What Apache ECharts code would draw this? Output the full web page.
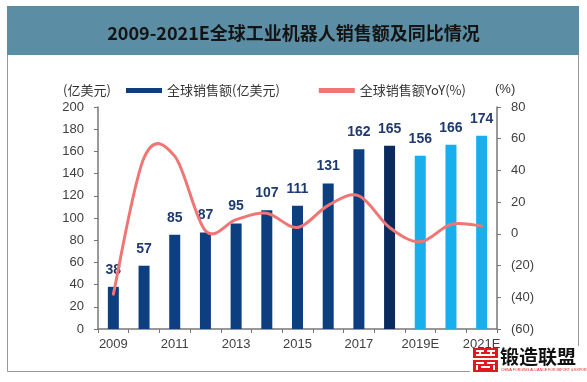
<!DOCTYPE html>
<html><head><meta charset="utf-8">
<script src="https://cdn.jsdelivr.net/npm/echarts@6/dist/echarts.min.js"></script>
<style>html,body{margin:0;padding:0;background:#fff}#c{width:587px;height:382px}</style>
</head><body><div id="c"></div>
<script>
const categories = ['2009','2010','2011','2012','2013','2014','2015','2016','2017','2018','2019E','2020E','2021E'];
const sales = [38,57,85,87,95,107,111,131,162,165,156,166,174];
const yoy = [-38,48,49,2,9,13,4,18,24,4,-5,6,5];
const leftTicks = {min:0, max:200, interval:20};
const rightTicks = {min:-60, max:80, interval:20};

const darkBlue = '#0c3e80', navy = '#0a2a5e', lightBlue = '#19afec', lineColor = '#f07575';
const barColors = categories.map((c,i)=> i<9 ? darkBlue : (i===9 ? navy : lightBlue));
const fontNum = 'Liberation Sans, Arial, sans-serif';
const fontCJK = 'Noto Sans CJK SC, sans-serif';

function renderSmooth(params, api){
  if (params.dataIndex !== 0) return;
  const pts = yoy.map((v,i)=>api.coord([i, v]));
  let d = 'M' + pts[0][0] + ',' + pts[0][1];
  for (let i=0;i<pts.length-1;i++){
    const p0 = pts[Math.max(0,i-1)], p1 = pts[i], p2 = pts[i+1], p3 = pts[Math.min(pts.length-1,i+2)];
    const c1 = [p1[0]+(p2[0]-p0[0])/6, p1[1]+(p2[1]-p0[1])/6];
    const c2 = [p2[0]-(p3[0]-p1[0])/6, p2[1]-(p3[1]-p1[1])/6];
    d += ' C' + c1[0]+','+c1[1]+' '+c2[0]+','+c2[1]+' '+p2[0]+','+p2[1];
  }
  return {type:'path', shape:{pathData:d}, style:{fill:null, stroke:lineColor, lineWidth:3, lineJoin:'round', lineCap:'round'}};
}

const chart = echarts.init(document.getElementById('c'));
chart.setOption({
  animation:false,
  backgroundColor:'#fff',
  title:{text:'2009-2021E全球工业机器人销售额及同比情况', left:'center', top:19,
    textStyle:{fontFamily:fontCJK, fontSize:18, fontWeight:'bold', color:'#141414'}},
  legend:{top:79, left:121, itemWidth:36, itemHeight:5, itemGap:39,
    textStyle:{fontFamily:fontCJK, fontSize:13, color:'#333'},
    data:[{name:'全球销售额(亿美元)', icon:'rect'},{name:'全球销售额YoY(%)', icon:'rect', itemStyle:{color:lineColor}}]},
  grid:{left:98, right:90, top:107, bottom:53},
  xAxis:{type:'category', data:categories,
    axisLine:{lineStyle:{color:'#777', width:1.5}},
    axisTick:{show:true, interval:0, length:4, lineStyle:{color:'#777'}},
    axisLabel:{interval:1, margin:9, fontFamily:fontNum, fontSize:13, color:'#404040'}},
  yAxis:[
    {type:'value', min:leftTicks.min, max:leftTicks.max, interval:leftTicks.interval,
     splitLine:{show:false}, axisLine:{show:true, lineStyle:{color:'#777', width:1.5}},
     axisTick:{show:true, length:4, lineStyle:{color:'#777'}},
     axisLabel:{margin:14, fontFamily:fontNum, fontSize:13, color:'#404040'}},
    {type:'value', min:rightTicks.min, max:rightTicks.max, interval:rightTicks.interval,
     splitLine:{show:false}, axisLine:{show:true, lineStyle:{color:'#777', width:1.5}},
     axisTick:{show:true, length:4, lineStyle:{color:'#777'}},
     axisLabel:{margin:14, fontFamily:fontNum, fontSize:13, color:'#404040',
       formatter:v=> v<0 ? '('+(-v)+')' : String(v)}}
  ],
  series:[
    {name:'全球销售额(亿美元)', type:'bar', barWidth:11, z:2,
     itemStyle:{color:darkBlue},
     data:sales.map((v,i)=>({value:v, itemStyle:{color:barColors[i]}})),
     label:{show:true, position:'top', distance:10, fontFamily:fontNum, fontSize:14, fontWeight:'bold', color:'#1f3a6e'}},
    {name:'全球销售额YoY(%)', type:'custom', yAxisIndex:1, z:3,
     itemStyle:{color:lineColor},
     encode:{x:0, y:1},
     renderItem:renderSmooth,
     data:yoy.map((v,i)=>[i,v])}
  ],
  graphic:[
    {type:'rect', z:-10, shape:{x:7.5,y:6.5,width:571,height:365}, style:{fill:'#fff', stroke:'#999', lineWidth:1}},
    {type:'rect', z:-9, shape:{x:7,y:6,width:572,height:49}, style:{fill:'#5b8ea4'}},
    {type:'text', left:63, top:84, style:{text:'(亿美元)', fontFamily:fontCJK, fontSize:13, fill:'#333'}},
    {type:'text', left:495, top:83, style:{text:'(%)', fontFamily:fontNum, fontSize:13, fill:'#333'}},
    {type:'group', left:470, top:346, children:[
      {type:'rect', shape:{x:0,y:0,width:110,height:28}, style:{fill:'#fff'}},
      {type:'rect', shape:{x:3,y:2,width:25,height:24}, style:{fill:'#e0191e'}},
      {type:'rect', shape:{x:6,y:4,width:8,height:2}, style:{fill:'#fff'}},
      {type:'rect', shape:{x:17,y:4,width:8,height:2}, style:{fill:'#fff'}},
      {type:'rect', shape:{x:6,y:8,width:19,height:2}, style:{fill:'#fff'}},
      {type:'rect', shape:{x:9,y:6,width:2,height:2}, style:{fill:'#fff'}},
      {type:'rect', shape:{x:20,y:6,width:2,height:2}, style:{fill:'#fff'}},
      {type:'rect', shape:{x:3,y:12,width:25,height:2}, style:{fill:'#fff'}},
      {type:'rect', shape:{x:6,y:16,width:8,height:2}, style:{fill:'#fff'}},
      {type:'rect', shape:{x:17,y:16,width:8,height:2}, style:{fill:'#fff'}},
      {type:'rect', shape:{x:6,y:19,width:2,height:5}, style:{fill:'#fff'}},
      {type:'rect', shape:{x:23,y:19,width:2,height:5}, style:{fill:'#fff'}},
      {type:'rect', shape:{x:11,y:20,width:9,height:2}, style:{fill:'#fff'}},
      {type:'text', x:30, y:1, style:{text:'锻造联盟', fontFamily:fontCJK, fontSize:19, fontWeight:'bold', fill:'#111'}},
      {type:'text', x:31, y:22, style:{text:'CHINA FORGING ALLIANCE FOR IMPORT & EXPORT', fontFamily:fontNum, fontSize:3.5, fill:'#e0191e'}}
    ]}
  ]
});
</script></body></html>
